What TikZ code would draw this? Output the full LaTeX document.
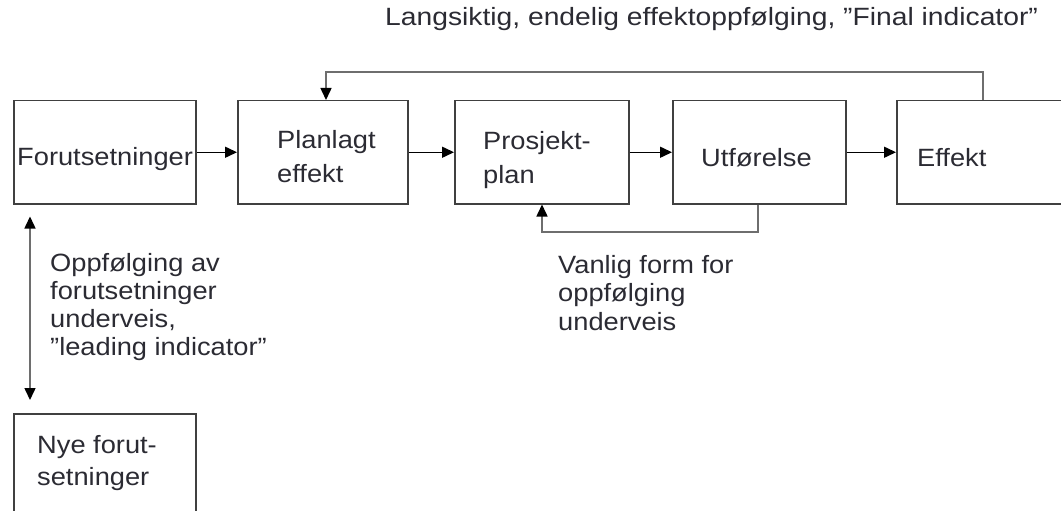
\documentclass[tikz,border=0pt]{standalone}
\usepackage{fontspec}
\setmainfont{Liberation Sans}[FakeStretch=1.09]
\newfontfamily\widefont{Liberation Sans}[FakeStretch=1.13]
\usetikzlibrary{positioning, calc, arrows.meta}
\definecolor{Tekst}{HTML}{2B2B33}
\definecolor{Kant}{HTML}{404040}
\definecolor{Retur}{HTML}{6E6E6E}
\tikzset{
    boks/.style={rectangle, draw=Kant, line width=1.5pt, minimum height=103pt, anchor=north west, inner sep=0pt},
    etikett/.style={anchor=base west, align=left, inner sep=0pt, text=Tekst},
    pil/.style={-{Triangle[length=12pt, width=11pt]}, line width=1.5pt, color=black},
    returpil/.style={-{Triangle[length=12pt, width=11pt, color=black]}, line width=1.5pt, color=Retur},
}

\begin{document}
\begin{tikzpicture}[x=1pt, y=-1pt, font=\fontsize{25}{30}\selectfont]
    \useasboundingbox (0,0) rectangle (1061,511);

    % Bokser
    \node[boks, minimum width=182pt] (fors) at (13,100) {};
    \node[boks, minimum width=170pt] (plan) at (237,100) {};
    \node[boks, minimum width=174pt] (prosj) at (454,100) {};
    \node[boks, minimum width=173pt] (utf) at (672,100) {};
    \node[boks, minimum width=220pt] (eff) at (896,100) {};
    \node[boks, minimum width=182pt, minimum height=140pt] (nye) at (13,413) {};

    % Tekst i boksene (flerlinjet: grunnlinjen er siste linje)
    \node[etikett] (forsT) at (17,165) {Forutsetninger};
    \node[etikett, font=\fontsize{25}{34}\selectfont] (planT) at (277,182) {Planlagt\\effekt};
    \node[etikett, font=\fontsize{25}{34}\selectfont] (prosjT) at (483,183) {Prosjekt-\\plan};
    \node[etikett] (utfT) at (701,166) {Utførelse};
    \node[etikett] (effT) at (917,166) {Effekt};
    \node[etikett, font=\fontsize{25}{32}\selectfont] (nyeT) at (37,485) {Nye forut-\\setninger};

    % Etiketter
    \node[etikett, font=\widefont\fontsize{25}{30}\selectfont] (langT) at (385,26) {Langsiktig, endelig effektoppfølging, ”Final indicator”};
    \node[etikett, font=\fontsize{25}{27.7}\selectfont] (oppfT) at (50,355) {Oppfølging av\\forutsetninger\\underveis,\\”leading indicator”};
    \node[etikett, font=\fontsize{25}{28.5}\selectfont] (vanligT) at (558,330) {Vanlig form for\\oppfølging\\underveis};

    % Hovedflyt
    \draw[pil] (fors) -- (plan);
    \draw[pil] (plan) -- (prosj);
    \draw[pil] (prosj) -- (utf);
    \draw[pil] (utf) -- (eff);

    % Tilbakekoblinger
    \coordinate (topH) at (983,72);
    \coordinate (topV) at (326,72);
    \draw[returpil] (eff.north -| topH) -- (topH) -- (topV) -- (topV |- plan.north);
    \coordinate (bunnH) at (758,232);
    \coordinate (bunnV) at (542,232);
    \draw[returpil] (utf.south -| bunnH) -- (bunnH) -- (bunnV) -- (bunnV |- prosj.south);

    % Dobbeltpil
    \coordinate (dobbel) at (30,300);
    \draw[{Triangle[length=12pt, width=11pt, color=black]}-{Triangle[length=12pt, width=11pt, color=black]}, line width=1.5pt, Retur, shorten <=12pt, shorten >=13pt]
        (fors.south -| dobbel) -- (nye.north -| dobbel);
\end{tikzpicture}
\end{document}
